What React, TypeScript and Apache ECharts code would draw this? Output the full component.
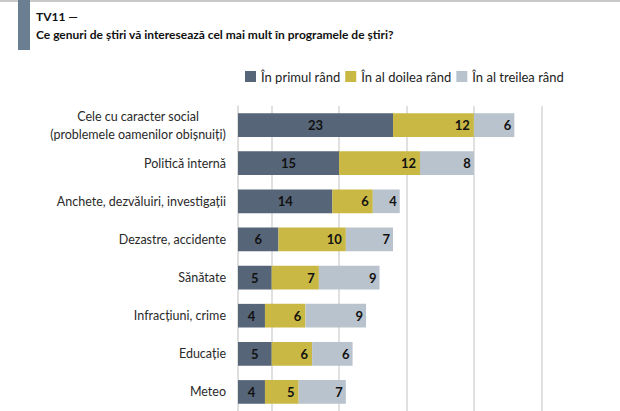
import React, { useEffect, useRef } from "react";
import * as echarts from "echarts";

// Topics asked about in the survey question, top to bottom
const categories = [
  "Cele cu caracter social\n(problemele oamenilor obișnuiți)",
  "Politică internă",
  "Anchete, dezvăluiri, investigații",
  "Dezastre, accidente",
  "Sănătate",
  "Infracțiuni, crime",
  "Educație",
  "Meteo",
];

const seriesNames = ["În primul rând", "În al doilea rând", "În al treilea rând"];

const firstChoice = [23, 15, 14, 6, 5, 4, 5, 4];
const secondChoice = [12, 12, 6, 10, 7, 6, 6, 5];
const thirdChoice = [6, 8, 4, 7, 9, 9, 6, 7];

const gridValues = [5, 15, 25, 35, 45];

const FONT = "Lato, 'Noto Sans', sans-serif";

export default function App() {
  const ref = useRef<HTMLDivElement>(null);

  useEffect(() => {
    if (!ref.current) return;
    const chart = echarts.init(ref.current, undefined, { renderer: "svg" });

    const labelBase = {
      show: true,
      fontFamily: FONT,
      fontWeight: "bold" as const,
      fontSize: 13,
      color: "#111",
    };

    chart.setOption({
      animation: false,
      backgroundColor: "#ffffff",
      textStyle: { fontFamily: FONT },
      graphic: [
        {
          type: "rect",
          shape: { x: 0, y: 0, width: 620, height: 2 },
          style: { fill: "#c9c9c9" },
        },
        {
          type: "rect",
          shape: { x: 18, y: 0, width: 12, height: 50 },
          style: { fill: "#6b7f93" },
        },
        {
          type: "text",
          left: 36,
          top: 10,
          style: {
            text: "TV11 —",
            fontFamily: FONT,
            fontWeight: "bold",
            fontSize: 12,
            fill: "#111",
          },
        },
        {
          type: "text",
          left: 36,
          top: 28,
          style: {
            text: "Ce genuri de știri vă interesează cel mai mult în programele de știri?",
            fontFamily: FONT,
            fontWeight: "bold",
            fontSize: 12,
            fill: "#111",
          },
        },
      ],
      legend: {
        left: 240,
        top: 65,
        itemWidth: 11,
        itemHeight: 11,
        itemGap: 5,
        icon: "rect",
        data: seriesNames,
        textStyle: { fontFamily: FONT, fontSize: 13, color: "#222" },
      },
      grid: { left: 238, right: 45, top: 106, bottom: 0, containLabel: false },
      xAxis: {
        type: "value",
        min: 0,
        max: 50,
        axisLabel: { show: false },
        axisLine: { show: false },
        axisTick: { show: false },
        splitLine: { show: false },
      },
      yAxis: {
        type: "category",
        inverse: true,
        data: categories,
        axisTick: { show: false },
        axisLine: { show: true, lineStyle: { color: "#d3d3d3", width: 1.5 } },
        axisLabel: {
          margin: 12,
          fontFamily: FONT,
          fontSize: 12.5,
          color: "#2a2a2a",
          lineHeight: 18,
          align: "right",
          // multi-line labels keep their lines centred on each other
          formatter: (value: string) =>
            value
              .split("\n")
              .map((line) => `{c|${line}}`)
              .join("\n"),
          rich: {
            c: {
              align: "center",
              fontFamily: FONT,
              fontSize: 12.5,
              color: "#2a2a2a",
              lineHeight: 18,
            },
          },
        },
      },
      series: [
        {
          name: seriesNames[0],
          type: "bar",
          stack: "total",
          barWidth: "62%",
          data: firstChoice,
          itemStyle: { color: "#566578" },
          label: { ...labelBase, position: "inside" },
          markLine: {
            silent: true,
            symbol: "none",
            z: 1,
            label: { show: false },
            lineStyle: { color: "#d6d6d6", width: 1.5, type: "solid" },
            data: gridValues.map((v) => ({ xAxis: v })),
          },
        },
        {
          name: seriesNames[1],
          type: "bar",
          stack: "total",
          data: secondChoice,
          itemStyle: { color: "#c9b843" },
          label: { ...labelBase, position: "insideRight", distance: 4 },
        },
        {
          name: seriesNames[2],
          type: "bar",
          stack: "total",
          data: thirdChoice,
          itemStyle: { color: "#b9c3cd" },
          label: { ...labelBase, position: "insideRight", distance: 3 },
        },
      ],
    });

    return () => chart.dispose();
  }, []);

  return (
    <div
      ref={ref}
      style={{ position: "fixed", left: 0, top: 0, width: 620, height: 411 }}
    />
  );
}
